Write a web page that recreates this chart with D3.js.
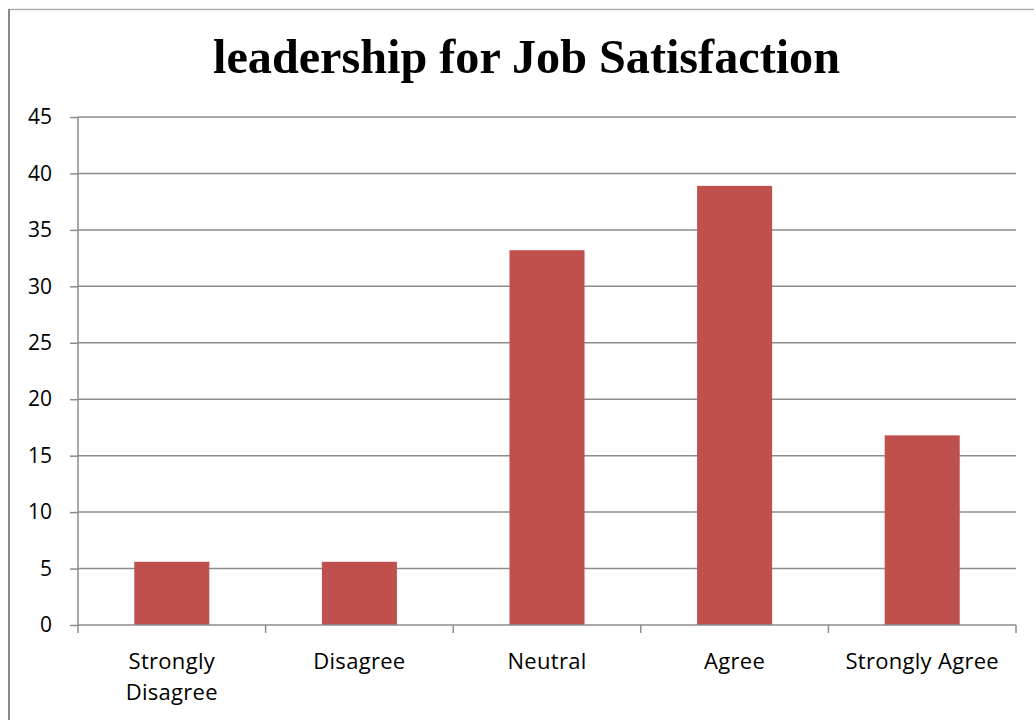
<!DOCTYPE html>
<html>
<head>
<meta charset="utf-8">
<script src="https://cdn.jsdelivr.net/npm/d3@7"></script>
<style>
  html, body { margin: 0; padding: 0; background: #fff; }
  svg { display: block; }
</style>
</head>
<body>
<svg id="chart" width="1034" height="720"></svg>
<script>
// Survey responses (percent)
const categories = ["Strongly Disagree", "Disagree", "Neutral", "Agree", "Strongly Agree"];
const categoryLines = [["Strongly", "Disagree"], ["Disagree"], ["Neutral"], ["Agree"], ["Strongly Agree"]];
const values = [5.6, 5.6, 33.2, 38.9, 16.8];
const yTicks = [0, 5, 10, 15, 20, 25, 30, 35, 40, 45];
const titleText = "leadership for Job Satisfaction";

const svg = d3.select("#chart");
const W = 1034, H = 720;
const plot = { left: 78, right: 1016, top: 117, bottom: 625 };
const axisColor = "#8c8c8c";
const labelFont = "'Open Sans', 'Noto Sans', sans-serif";

// chart frame
svg.append("line")
  .attr("x1", 8).attr("x2", W).attr("y1", 9.5).attr("y2", 9.5)
  .attr("stroke", "#b0b0b0").attr("stroke-width", 1.5);
svg.append("line")
  .attr("x1", 9).attr("x2", 9).attr("y1", 9).attr("y2", H)
  .attr("stroke", "#8a8a8a").attr("stroke-width", 2);

// title
svg.append("text")
  .attr("x", (213 + 840) / 2).attr("y", 73)
  .attr("text-anchor", "middle")
  .attr("font-family", "'Liberation Serif', 'Times New Roman', serif")
  .attr("font-weight", "bold")
  .attr("font-size", 49)
  .attr("textLength", 627)
  .attr("lengthAdjust", "spacingAndGlyphs")
  .attr("fill", "#000")
  .text(titleText);

const x = d3.scaleBand().domain(categories).range([plot.left, plot.right]).paddingInner(0.6).paddingOuter(0.3);
const xb = d3.scaleBand().domain(categories).range([plot.left, plot.right]);
const y = d3.scaleLinear().domain([0, 45]).range([plot.bottom, plot.top]);

// horizontal gridlines
svg.append("g")
  .selectAll("line").data(yTicks.filter(d => d > 0)).join("line")
  .attr("x1", plot.left).attr("x2", plot.right)
  .attr("y1", d => y(d)).attr("y2", d => y(d))
  .attr("stroke", axisColor).attr("stroke-width", 1.5);

// bars
svg.append("g")
  .selectAll("rect").data(values).join("rect")
  .attr("x", (d, i) => x(categories[i]))
  .attr("width", x.bandwidth())
  .attr("y", d => y(d))
  .attr("height", d => y(0) - y(d))
  .attr("fill", "#C0504D");

// y axis
const yAxis = d3.axisLeft(y).tickValues(yTicks).tickSize(8).tickPadding(18).tickFormat(d3.format("d"));
const gy = svg.append("g").attr("transform", `translate(${plot.left},0)`).call(yAxis);
gy.select(".domain").attr("d", `M0,${plot.top}V${plot.bottom + 8}`).attr("stroke", axisColor).attr("stroke-width", 1.5);
gy.selectAll(".tick line").attr("stroke", axisColor).attr("stroke-width", 1.5);
gy.selectAll(".tick text")
  .attr("font-family", labelFont)
  .attr("font-size", 21).attr("fill", "#000");

// x axis
const xAxis = d3.axisBottom(xb).tickSize(0).tickFormat("");
const gx = svg.append("g").attr("transform", `translate(0,${plot.bottom})`).call(xAxis);
gx.select(".domain").attr("d", `M${plot.left},0H${plot.right}`).attr("stroke", axisColor).attr("stroke-width", 1.5);
// tick marks on category boundaries
gx.selectAll(".sep").data(categories).join("line")
  .attr("class", "sep")
  .attr("x1", d => xb(d) + xb.bandwidth()).attr("x2", d => xb(d) + xb.bandwidth())
  .attr("y1", 0).attr("y2", 8)
  .attr("stroke", axisColor).attr("stroke-width", 1.5);

// category labels
const lbl = svg.append("g")
  .selectAll("text").data(categories).join("text")
  .attr("x", d => xb(d) + xb.bandwidth() / 2)
  .attr("y", 669)
  .attr("text-anchor", "middle")
  .attr("font-family", labelFont)
  .attr("font-size", 22).attr("letter-spacing", 0.3).attr("fill", "#000");
lbl.each(function(d, i) {
  d3.select(this).selectAll("tspan").data(categoryLines[i]).join("tspan")
    .attr("x", xb(d) + xb.bandwidth() / 2)
    .attr("dy", (t, j) => j === 0 ? 0 : 31)
    .text(t => t);
});
</script>
</body>
</html>
